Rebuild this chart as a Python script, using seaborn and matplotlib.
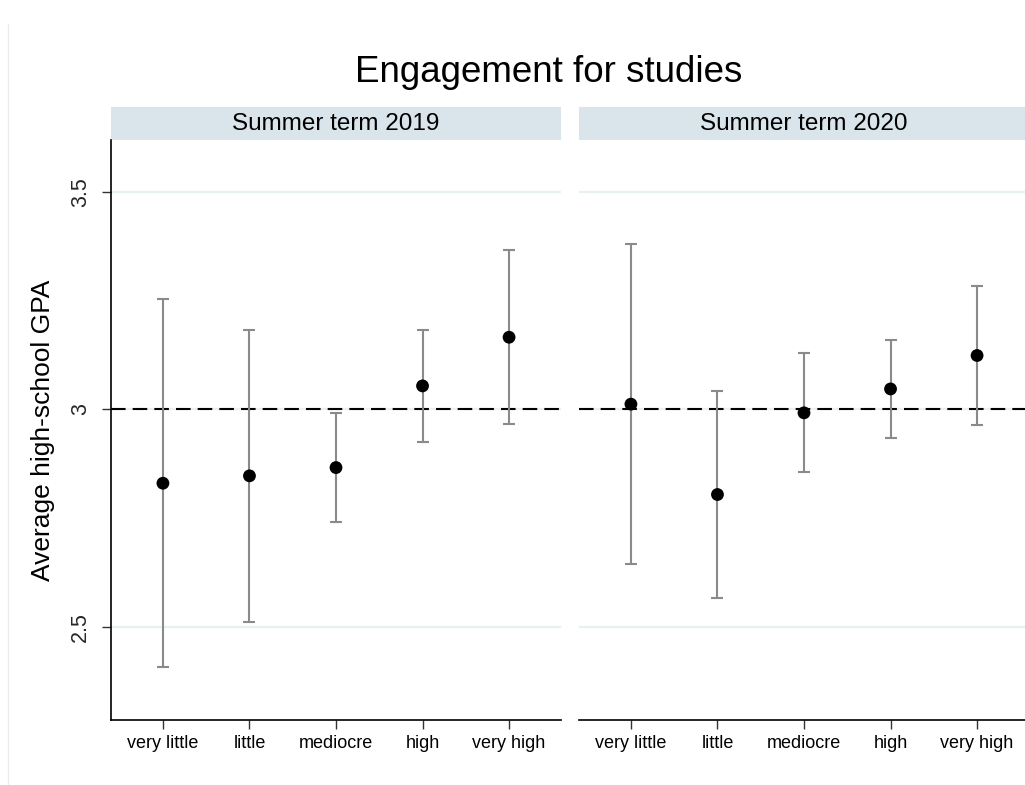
import matplotlib
matplotlib.use("Agg")
import matplotlib.pyplot as plt
from matplotlib.patches import Rectangle
from matplotlib.lines import Line2D
import seaborn as sns
import pandas as pd
import numpy as np

# ---- data ----
categories = ["very little", "little", "mediocre", "high", "very high"]
panels = ["Summer term 2019", "Summer term 2020"]
mean_2019 = [2.830, 2.847, 2.866, 3.054, 3.166]
lo_2019 = [2.406, 2.511, 2.741, 2.925, 2.967]
hi_2019 = [3.254, 3.182, 2.991, 3.183, 3.366]
mean_2020 = [3.012, 2.804, 2.992, 3.047, 3.124]
lo_2020 = [2.643, 2.566, 2.856, 2.935, 2.965]
hi_2020 = [3.381, 3.042, 3.129, 3.160, 3.285]
yticks = [2.5, 3.0, 3.5]
ytick_labels = ["2.5", "3", "3.5"]
reference_line = 3.0

sns.set_theme(style="white")
plt.rcParams["font.family"] = ["Liberation Sans", "DejaVu Sans"]

W, H = 1025, 785
fig = plt.figure(figsize=(W / 100, H / 100), dpi=100)

# faint left edge of the outer graph region
fig.lines.append(Line2D([7.5 / W, 7.5 / W], [0, 1 - 24 / H],
                        transform=fig.transFigure, color="#ececec", lw=1.0,
                        zorder=0))

grid_col = "#e8f0f2"
strip_col = "#d9e5ea"
err_col = "#8a8a8a"

axes_px = [(111, 140, 450, 580), (579, 140, 450, 580)]
series = [(mean_2019, lo_2019, hi_2019), (mean_2020, lo_2020, hi_2020)]

for i, (panel, (m, lo, hi), (x0, y0, w, h)) in enumerate(zip(panels, series, axes_px)):
    ax = fig.add_axes([x0 / W, 1 - (y0 + h) / H, w / W, h / H])
    df = pd.DataFrame({"pos": np.arange(len(categories)), "cat": categories,
                       "mean": m, "lo": lo, "hi": hi})
    for yv in yticks:
        ax.axhline(yv, color=grid_col, lw=1.6, zorder=0)
    ax.axhline(reference_line, color="black", lw=1.5, dashes=(7, 3.4), zorder=1)
    ax.errorbar(df["pos"], df["mean"],
                yerr=[df["mean"] - df["lo"], df["hi"] - df["mean"]],
                fmt="none", ecolor=err_col, elinewidth=1.5, capsize=4,
                capthick=1.5, zorder=2)
    sns.scatterplot(data=df, x="pos", y="mean", ax=ax, color="black", s=85,
                    edgecolor="none", zorder=3, legend=False)
    ax.set_xlim(-0.6, 4.6)
    ax.set_ylim(2.285, 3.62)
    ax.set_xticks(df["pos"])
    ax.set_xticklabels(categories, fontsize=13)
    ax.set_xlabel("")
    ax.set_ylabel("")
    ax.tick_params(axis="x", length=6.5, width=1.0, color="#333333", pad=4,
                   bottom=True, labelcolor="black")
    for s in ["top", "right"]:
        ax.spines[s].set_visible(False)
    ax.spines["bottom"].set_color("black")
    ax.spines["bottom"].set_linewidth(1.2)
    if i == 0:
        ax.spines["left"].set_color("black")
        ax.spines["left"].set_linewidth(1.2)
        ax.set_yticks(yticks)
        ax.set_yticklabels(ytick_labels, fontsize=15.5, rotation=90, va="center")
        ax.tick_params(axis="y", length=6.5, width=1.0, color="#333333", pad=8,
                       left=True)
    else:
        ax.spines["left"].set_visible(False)
        ax.set_yticks(yticks)
        ax.tick_params(axis="y", left=False, labelleft=False)
    ax.grid(False)
    # strip header
    sh = 33 / h
    ax.add_patch(Rectangle((0, 1.0), 1, sh, transform=ax.transAxes,
                           facecolor=strip_col, edgecolor="none", clip_on=False))
    ax.text(0.5, 1.0 + sh / 2, panel, transform=ax.transAxes, ha="center",
            va="center", fontsize=17.5, color="black")

fig.text(549 / W, 1 - 72 / H, "Engagement for studies", ha="center", va="center",
         fontsize=26.5, color="black")
fig.text(43 / W, 1 - 430 / H, "Average high-school GPA", rotation=90,
         ha="center", va="center", fontsize=19, color="black")

fig.savefig("out.png", dpi=100, facecolor="white")
